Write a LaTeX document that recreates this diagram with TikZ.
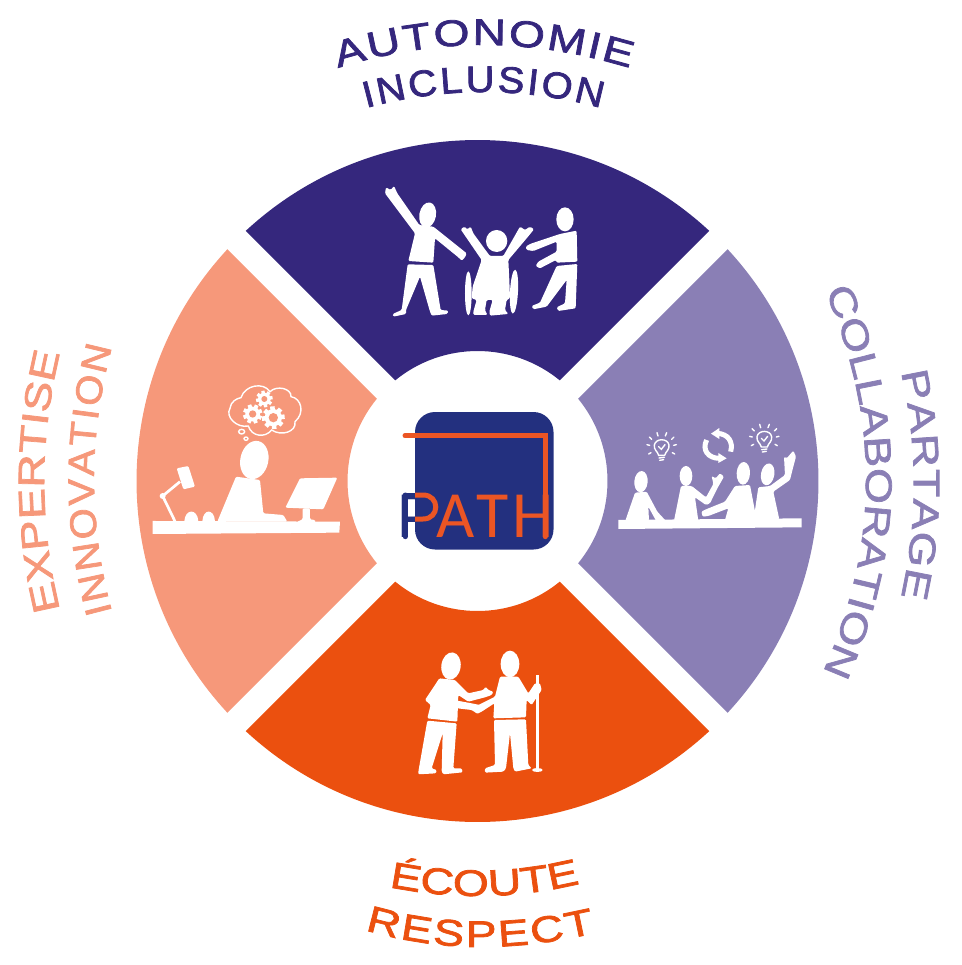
\documentclass[tikz,border=0pt]{standalone}
\usepackage{fontspec}
\usetikzlibrary{decorations.text}
\newfontfamily\lab[FakeStretch=1.25,FakeBold=2]{Liberation Sans}
\newfontfamily\labnarrow[FakeStretch=1.08,FakeBold=2]{Liberation Sans}
\newfontfamily\logofont{Carlito}
\definecolor{cTop}{HTML}{35277D}
\definecolor{cRight}{HTML}{8A7FB5}
\definecolor{cBottom}{HTML}{EB500F}
\definecolor{cLeft}{HTML}{F6987A}
\definecolor{logoBlue}{HTML}{23307F}
\definecolor{logoOrange}{HTML}{EB5524}
\tikzset{
  fig/.style={fill=white,rounded corners=1.2pt},
  zoomed/.style={x=0.3333pt,y=-0.3333pt},
  thin stroke/.style={draw=white,line width=1.4pt,line cap=round},
  logo stroke/.style={draw=logoOrange,line width=5pt,line cap=round,line join=miter}
}
\newcommand{\sector}[2]{%
  \fill[#1] ([shift={(C)}]#2+42.82:341pt) arc[start angle=#2+42.82,end angle=#2-42.82,radius=341pt]
    -- ([shift={(C)}]#2-39.26:130pt) arc[start angle=#2-39.26,end angle=#2+39.26,radius=130pt] -- cycle;}
\newcommand{\hd}[5]{\fill[white,shift={(#1,#2)},rotate=#5] (0,0) ellipse[x radius=#3,y radius=#4];}
\newcommand{\gear}[5]{%
  \fill[white] (#1,#2) circle[radius=#3*0.76];
  \foreach \a in {0,45,...,315}{\fill[white,shift={(#1,#2)},rotate=\a+#5] (-#3*0.2,0) rectangle (#3*0.2,#3);}
  \fill[cLeft] (#1,#2) circle[radius=#4];}
\newcommand{\bulb}[2]{%
  \begin{scope}[shift={(#1,#2)}]
    \draw[thin stroke] (-9,16) .. controls (-12,4) and (-24,0) .. (-22,-15) .. controls (-18,-36) and (18,-36) .. (22,-15) .. controls (24,0) and (12,4) .. (9,16) -- cycle;
    \draw[thin stroke] (-9,-10) -- (-1,-2) -- (10,-16);
    \draw[thin stroke] (-8,24) -- (8,22) (-6,31) -- (6,29);
    \draw[thin stroke] (-36,-14) -- (-44,-16) (-30,-32) -- (-37,-39) (-11,-42) -- (-14,-52) (11,-42) -- (15,-52) (30,-32) -- (37,-39) (36,-14) -- (44,-16) (-32,8) -- (-39,12) (32,8) -- (39,12);
  \end{scope}}
\newcommand{\arclabel}[7][\lab]{%
  \path[decorate,decoration={text along path,text align={fit to path},
    text={|#1\fontsize{37}{37}\selectfont\color{#6}|#7}}]
    (#2) .. controls (#3) and (#4) .. (#5);}
\begin{document}
\begin{tikzpicture}[x=1pt,y=-1pt]
\useasboundingbox (0,0) rectangle (961,965);
\coordinate (C) at (477.5,481);
\sector{cTop}{90}
\sector{cRight}{0}
\sector{cBottom}{-90}
\sector{cLeft}{180}

% labels
\arclabel{338,68}{437,37.3}{528,37.3}{630,68}{cTop}{AUTONOMIE}
\arclabel[\labnarrow]{366,108}{445,86.7}{522,86.7}{601,108}{cTop}{INCLUSION}
\arclabel{825,291}{880,418}{880,545}{823,672}{cRight}{COLLABORATION}
\arclabel{901,372}{918,447}{918,522}{901,597}{cRight}{PARTAGE}
\arclabel{389,887}{451,899.3}{512,899.3}{574,885}{cBottom}{ÉCOUTE}
\arclabel{365,930}{440,952}{514,952}{595,933}{cBottom}{RESPECT}
\arclabel{60,610}{39,524}{39,439}{60,353}{cLeft}{EXPERTISE}
\arclabel[\labnarrow]{112,612}{88,522}{88,437}{112,347}{cLeft}{INNOVATION}

% logo
\fill[logoBlue,rounded corners=20pt] (415,412) rectangle (553.5,549.5);
\node[font=\logofont\fontsize{66}{66}\selectfont,anchor=base west,inner sep=0pt,text=logoOrange] (pathlogo) at (397,537) {\textcolor{logoBlue}{P}\kern5pt A\kern2pt T\kern4pt H};
\draw[logo stroke] (405,435.7) -- (545,435.7) -- (545,536.7);
\draw[draw=logoBlue,line width=5pt,line cap=round] (405,495) -- (415,495) (405,495) -- (405,536.7);
\draw[draw=logoBlue,line width=5pt] (405,519) -- (415,519);
\draw[draw=logoOrange,line width=5pt] (415,495) -- (423,495) .. controls (440,495) and (440,519) .. (423,519) -- (415,519);

% top figure
\begin{scope}[shift={(370,170)},zoomed]
  \hd{173}{135}{25}{38}{-10}
  \fill[fig] (48,52) -- (62,60) -- (72,48) -- (82,70) -- (148,165) -- (190,170) -- (290,250) -- (285,262) -- (275,272) -- (265,262) -- (195,205) -- (190,278) -- (115,273) -- (135,190) -- (45,70) -- cycle;
  \fill[fig] (113,283) -- (190,285) -- (212,420) -- (235,422) -- (232,432) -- (185,437) -- (180,425) -- (150,320) -- (108,420) -- (108,432) -- (70,440) -- (68,432) -- (95,420) -- cycle;
  \hd{380}{213}{32}{33}{0}
  \fill[fig] (272,178) -- (283,170) -- (292,178) -- (302,170) -- (310,190) -- (350,245) -- (360,258) -- (400,258) -- (450,170) -- (465,180) -- (480,170) -- (492,178) -- (470,205) -- (415,270) -- (418,330) -- (420,385) -- (410,390) -- (405,420) -- (415,432) -- (360,437) -- (358,425) -- (368,390) -- (350,390) -- (345,420) -- (352,435) -- (310,435) -- (310,425) -- (320,390) -- (305,385) -- (308,350) -- (335,270) -- cycle;
  \hd{295}{370}{10}{66}{0}
  \hd{432}{365}{12}{66}{-3}
  \hd{585}{148}{26}{36}{0}
  \fill[fig] (570,192) -- (620,182) -- (622,275) -- (560,278) -- (558,270) -- (510,295) -- (497,288) -- (505,275) -- (560,245) -- (560,215) -- (490,243) -- (470,240) -- (467,230) -- (480,222) -- cycle;
  \fill[fig] (560,288) -- (622,282) -- (617,415) -- (565,423) -- (560,412) -- (585,400) -- (590,330) -- (530,410) -- (490,418) -- (485,408) -- (510,398) -- cycle;
\end{scope}

% right figure
\begin{scope}[shift={(600,410)},zoomed]
  \fill[white] (55,330) -- (605,325) -- (605,352) -- (55,357) -- cycle;
  \hd{123}{215}{20}{32}{-5}
  \fill[fig] (105,248) -- (140,245) -- (172,305) -- (197,332) -- (168,332) -- (145,290) -- (147,332) -- (76,332) -- cycle;
  \hd{258}{198}{19}{30}{0}
  \fill[fig] (243,228) -- (275,228) -- (318,262) -- (340,222) -- (335,198) -- (347,205) -- (360,190) -- (372,200) -- (352,235) -- (330,280) -- (318,285) -- (285,262) -- (295,332) -- (222,332) -- cycle;
  \hd{430}{190}{20}{34}{-3}
  \fill[fig] (405,228) -- (450,225) -- (470,330) -- (375,330) -- (385,295) -- (325,318) -- (308,320) -- (304,305) -- (318,298) -- (375,275) -- cycle;
  \hd{503}{193}{20}{33}{-10}
  \fill[fig] (475,232) -- (510,228) -- (555,195) -- (552,140) -- (560,145) -- (580,122) -- (588,140) -- (580,170) -- (570,210) -- (520,245) -- (538,328) -- (462,328) -- (465,300) -- cycle;
  \bulb{185}{120}
  \bulb{493}{95}
  \draw[white,line width=5pt] (392,125) .. controls (400,95) and (385,72) .. (352,70);
  \fill[white] (358,54) -- (333,71) -- (358,87) -- cycle;
  \draw[white,line width=5pt] (320,90) .. controls (305,120) and (325,145) .. (358,145);
  \fill[white] (355,129) -- (380,145) -- (355,159) -- cycle;
\end{scope}

% bottom figure
\begin{scope}[shift={(400,640)},zoomed]
  \hd{153}{78}{29}{41}{-8}
  \fill[fig] (118,115) -- (165,120) -- (205,160) -- (250,150) -- (257,140) -- (265,150) -- (280,155) -- (275,165) -- (255,172) -- (205,185) -- (175,165) -- (172,245) -- (82,235) -- (92,195) -- (75,180) -- cycle;
  \fill[fig] (172,182) -- (215,190) -- (240,195) -- (245,210) -- (230,220) -- (215,210) -- (172,205) -- cycle;
  \fill[fig] (82,242) -- (170,250) -- (160,385) -- (185,385) -- (188,397) -- (130,403) -- (125,395) -- (128,280) -- (95,385) -- (110,390) -- (108,400) -- (55,403) -- (55,395) -- cycle;
  \hd{330}{72}{28}{40}{0}
  \fill[fig] (300,110) -- (355,110) -- (385,160) -- (405,130) -- (420,130) -- (425,150) -- (395,195) -- (380,180) -- (378,232) -- (280,235) -- (283,190) -- (245,215) -- (230,222) -- (220,205) -- (235,195) -- (285,170) -- cycle;
  \fill[fig] (282,240) -- (378,238) -- (385,375) -- (395,385) -- (345,395) -- (340,385) -- (330,280) -- (318,385) -- (310,395) -- (255,398) -- (255,385) -- (285,375) -- cycle;
  \fill[white] (408,105) rectangle (416,390);
  \hd{412}{390}{16}{6}{0}
\end{scope}

% left figure
\begin{scope}[shift={(140,380)},zoomed]
  \fill[white] (38,423) -- (600,425) -- (598,458) -- (38,462) -- cycle;
  \hd{343}{240}{42}{58}{-12}
  \fill[fig] (288,290) -- (360,300) -- (370,400) -- (430,405) -- (442,425) -- (232,425) -- cycle;
  \fill[fig] (480,295) -- (592,293) -- (550,388) -- (436,383) -- cycle;
  \fill[fig] (488,385) -- (510,385) -- (510,418) -- (525,420) -- (528,426) -- (470,426) -- (488,418) -- cycle;
  \fill[fig] (110,265) -- (145,258) -- (165,320) -- (130,328) -- cycle;
  \draw[white,line width=2.7pt] (120,305) -- (68,348) -- (105,424);
  \fill[white] (68,348) circle[radius=9];
  \fill[white] (133,424) .. controls (135,385) and (173,385) .. (175,424) -- cycle;
  \fill[white] (187,424) .. controls (189,385) and (223,385) .. (225,424) -- cycle;
  \draw[thin stroke] (303,53) .. controls (315,15) and (370,5) .. (390,35) .. controls (410,15) and (455,25) .. (453,50) .. controls (485,55) and (495,100) .. (465,125) .. controls (470,155) and (425,170) .. (395,150) .. controls (375,175) and (335,170) .. (325,138) .. controls (290,145) and (255,110) .. (270,85) .. controls (272,65) and (290,55) .. (303,53) -- cycle;
  \draw[thin stroke] (305,155) ellipse[x radius=9,y radius=7];
  \draw[thin stroke] (318,176) ellipse[x radius=6,y radius=5];
  \gear{373}{57}{25}{9}{10}
  \gear{338}{102}{29}{11}{20}
  \gear{400}{113}{34}{14}{5}
\end{scope}
\end{tikzpicture}
\end{document}
